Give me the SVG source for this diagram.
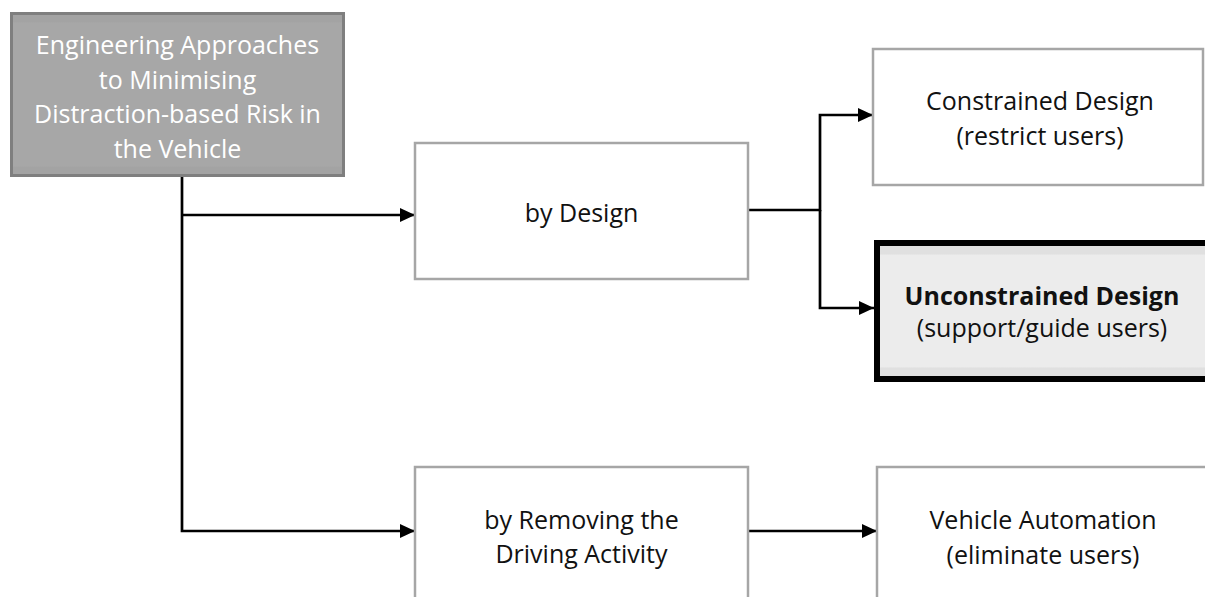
<svg xmlns="http://www.w3.org/2000/svg" width="1205" height="597" viewBox="0 0 1205 597">
<style>
text{font-family:"Open Sans","Noto Sans","Liberation Sans",sans-serif;font-size:25px;text-anchor:middle;fill:#111}
.box{fill:#fff;stroke:#a6a6a6;stroke-width:2.5}
.ln{fill:none;stroke:#000;stroke-width:2.7}
.w{fill:#fff}
.b{font-weight:bold}
</style>
<defs>
<marker id="ah" markerWidth="15" markerHeight="14" refX="15" refY="7" orient="auto" markerUnits="userSpaceOnUse">
<path d="M0,0 L15,7 L0,14 Z" fill="#000"/>
</marker>
<linearGradient id="gg" x1="0" y1="0" x2="0" y2="1">
<stop offset="0" stop-color="#a3a3a3"/>
<stop offset="0.05" stop-color="#a3a3a3"/>
<stop offset="0.06" stop-color="#a7a7a7"/>
<stop offset="0.94" stop-color="#a7a7a7"/>
<stop offset="0.95" stop-color="#a3a3a3"/>
<stop offset="1" stop-color="#a3a3a3"/>
</linearGradient>
<linearGradient id="ug" x1="0" y1="0" x2="0" y2="1">
<stop offset="0" stop-color="#e0e0e0"/>
<stop offset="0.08" stop-color="#e0e0e0"/>
<stop offset="0.09" stop-color="#ececec"/>
<stop offset="0.91" stop-color="#ececec"/>
<stop offset="0.92" stop-color="#e0e0e0"/>
<stop offset="1" stop-color="#e0e0e0"/>
</linearGradient>
</defs>
<g id="connectors">
<path class="ln" d="M182,177 V531 H415" marker-end="url(#ah)"/>
<path class="ln" d="M182,215 H415" marker-end="url(#ah)"/>
<path class="ln" d="M748,210 H820 V115 H873" marker-end="url(#ah)"/>
<path class="ln" d="M820,210 V308 H874" marker-end="url(#ah)"/>
<path class="ln" d="M748,531 H877" marker-end="url(#ah)"/>
</g>
<g id="root">
<rect x="11.5" y="13.5" width="332" height="162" fill="url(#gg)" stroke="#7f7f7f" stroke-width="3"/>
<text class="w" x="177.5" y="54">Engineering Approaches</text>
<text class="w" x="177.5" y="88.5">to Minimising</text>
<text class="w" x="177.5" y="123">Distraction-based Risk in</text>
<text class="w" x="177.5" y="157.5">the Vehicle</text>
</g>
<g id="by-design">
<rect class="box" x="415" y="143" width="333" height="136"/>
<text x="581.5" y="222">by Design</text>
</g>
<g id="constrained">
<rect class="box" x="873" y="49" width="330" height="136"/>
<text x="1040" y="110">Constrained Design</text>
<text x="1040" y="144.5">(restrict users)</text>
</g>
<g id="unconstrained">
<path d="M1210,243 H877 V379 H1210" fill="url(#ug)" stroke="#000" stroke-width="6"/>
<text class="b" x="1042" y="305">Unconstrained Design</text>
<text x="1042" y="337">(support/guide users)</text>
</g>
<g id="removing">
<rect class="box" x="415" y="467" width="333" height="145"/>
<text x="581.5" y="528.5">by Removing the</text>
<text x="581.5" y="563">Driving Activity</text>
</g>
<g id="automation">
<rect class="box" x="877" y="467" width="340" height="145"/>
<text x="1043" y="529">Vehicle Automation</text>
<text x="1043" y="564">(eliminate users)</text>
</g>
</svg>
